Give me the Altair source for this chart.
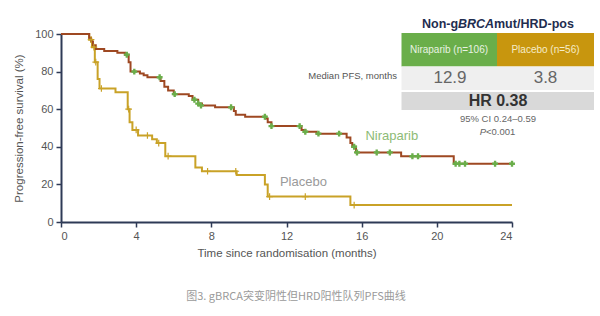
import altair as alt
import pandas as pd

# Kaplan-Meier step points (months, % PFS)
nira_t = [0, 1.5, 1.6, 1.7, 1.85, 2.3, 3.0, 3.4, 3.6, 3.7, 4.2, 4.4, 4.6, 5.3, 5.5, 5.7, 6.0, 6.8, 7.0, 7.3,
          7.5, 8.2, 9.2, 9.3, 9.8, 10.9, 11.0, 11.2, 12.8, 13.0, 13.6, 15.2, 15.4, 15.5, 15.7, 18.1, 20.9, 24.0]
nira_s = [100, 98, 96, 94, 92, 91, 90, 89, 85, 80, 79, 78, 77, 75, 72, 70, 68, 67, 65, 63,
          62, 61, 59, 57, 56, 55, 53, 51, 49, 48, 47, 45, 42, 40, 37, 35, 31, 31]
plac_t = [0, 1.5, 1.65, 1.8, 1.95, 2.05, 2.9, 3.55, 3.65, 3.8, 4.1, 4.85, 5.1, 5.55, 7.15, 7.5, 9.35, 10.85, 11.0, 15.4, 24.0]
plac_s = [100, 97, 93, 85, 76, 71, 69, 60, 53, 49, 46, 44, 42, 35, 29, 27, 25, 20, 13.5, 9, 9]

# censor marks
nira_ct = [3.5, 3.9, 5.25, 6.05, 7.1, 7.3, 7.45, 9.05, 10.85, 11.2, 12.7, 13.0, 13.7, 14.8, 15.6, 15.75,
           16.8, 17.5, 18.7, 19.0, 21.0, 21.2, 21.5, 23.1, 24.0]
nira_cs = [89, 80, 77, 68, 65, 63, 62, 61, 56, 51, 51, 48, 47, 47, 40, 37,
           37, 37, 35, 35, 31, 31, 31, 31, 31]
plac_ct = [1.6, 1.75, 1.85, 2.15, 3.6, 4.0, 4.6, 5.2, 5.7, 7.8, 9.3, 11.1, 13.0, 15.6]
plac_cs = [97, 93, 85, 71, 60, 49, 46, 42, 35, 27, 27, 13.5, 13.5, 9]

x_ticks = [0, 4, 8, 12, 16, 20, 24]
y_ticks = [0, 20, 40, 60, 80, 100]

arm_names = ["Niraparib", "Placebo"]
arm_n = [106, 56]
median_pfs = ["12.9", "3.8"]
hr_text = "HR 0.38"
ci_text = "95% CI 0.24\u20130.59"
p_text = "<0.001"
title_parts = ["Non-g", "BRCA", "mut/HRD-pos"]
caption = "图3. gBRCA突变阴性但HRD阳性队列PFS曲线"

NIRA = "#9e4822"
PLAC = "#c9a227"
GREEN = "#6aae4a"
GOLD = "#c8960e"
AX = "#2e3a56"
FONT = "Liberation Sans"

xs = alt.Scale(domain=[0, 24], nice=False)
ys = alt.Scale(domain=[0, 100], nice=False)

nira_df = pd.DataFrame({"t": nira_t, "s": nira_s})
plac_df = pd.DataFrame({"t": plac_t, "s": plac_s})
nc_df = pd.DataFrame({"t": nira_ct, "s": nira_cs})
pc_df = pd.DataFrame({"t": plac_ct, "s": plac_cs})

x_axis = alt.Axis(values=x_ticks, title="Time  since randomisation  (months)",
                  titlePadding=6, labelPadding=3, labelOverlap=False)
y_axis = alt.Axis(values=y_ticks, title="Progression-free survival (%)",
                  titlePadding=10, labelPadding=3, labelOverlap=False)
X = alt.X("t:Q", scale=xs, axis=x_axis)
Y = alt.Y("s:Q", scale=ys, axis=y_axis)

plac_line = alt.Chart(plac_df).mark_line(interpolate="step-after", color=PLAC, strokeWidth=2).encode(x=X, y=Y)
nira_line = alt.Chart(nira_df).mark_line(interpolate="step-after", color=NIRA, strokeWidth=2).encode(x=X, y=Y)
plac_cens = alt.Chart(pc_df).mark_point(shape="M-1,0L1,0M0,-1L0,1", filled=False, color=PLAC,
                                        strokeWidth=1.2, size=45, opacity=1).encode(x=X, y=Y)
nira_cens = alt.Chart(nc_df).mark_point(shape="cross", filled=True, color=GREEN, size=35,
                                        opacity=1).encode(x=X, y=Y)

lab_df = pd.DataFrame({"t": [16.2, 11.65], "s": [46.0, 21.5], "label": arm_names})
nira_lab = alt.Chart(lab_df.iloc[[0]]).mark_text(align="left", baseline="middle", fontSize=13, font=FONT,
                                                 color="#8dbb76").encode(x=X, y=Y, text="label:N")
plac_lab = alt.Chart(lab_df.iloc[[1]]).mark_text(align="left", baseline="middle", fontSize=13, font=FONT,
                                                 color="#9a9a9a").encode(x=X, y=Y, text="label:N")

# inset table (pixel positions relative to plot area origin at canvas (61, 34))
OX, OY = 61, 34
one = pd.DataFrame({"k": [0]})


def rect(x1, x2, y1, y2, color):
    return alt.Chart(one).mark_rect(color=color).encode(
        x=alt.value(x1 - OX), x2=alt.value(x2 - OX), y=alt.value(y1 - OY), y2=alt.value(y2 - OY))


def txt(text, x, y, size, color, align="center", weight="normal", style="normal", font=FONT):
    return alt.Chart(one).mark_text(text=text, align=align, baseline="middle", fontSize=size, color=color,
                                    fontWeight=weight, fontStyle=style, font=font).encode(
        x=alt.value(x - OX), y=alt.value(y - OY))


table = [
    rect(401.5, 497, 33, 66.5, GREEN),
    rect(497, 594, 33, 66.5, GOLD),
    rect(401.5, 594, 66.5, 90, "#efefef"),
    rect(401.5, 594, 92, 110, "#d9d9d9"),
    txt(title_parts[0], 422, 24, 12.5, "#1f2d50", align="left", weight="bold"),
    txt(title_parts[1], 458, 24, 12.5, "#1f2d50", align="left", weight="bold", style="italic"),
    txt(title_parts[2], 494, 24, 12.5, "#1f2d50", align="left", weight="bold"),
    txt(f"{arm_names[0]} (n={arm_n[0]})", 449, 49.5, 10, "#e9f2e2"),
    txt(f"{arm_names[1]} (n={arm_n[1]})", 545.5, 49.5, 10, "#f6ecc8"),
    txt("Median PFS, months", 397, 76, 9.5, "#555555", align="right"),
    txt(median_pfs[0], 450, 78, 17, "#666666"),
    txt(median_pfs[1], 545.5, 78, 17, "#666666"),
    txt(hr_text, 498, 101, 16, "#333333", weight="bold"),
    txt(ci_text, 498, 119, 9.5, "#666666"),
    txt("P", 486, 131.5, 9.5, "#666666", align="right", style="italic"),
    txt(p_text, 486, 131.5, 9.5, "#666666", align="left"),
    txt(caption, 296, 297, 11, "#9a9a9a", font="Noto Sans CJK SC"),
]

chart = alt.layer(plac_line, nira_line, plac_cens, nira_cens, nira_lab, plac_lab, *table).properties(
    width=451, height=188,
    autosize=alt.AutoSizeParams(type="none"),
    padding={"left": 61, "top": 34, "right": 88, "bottom": 94},
    background="white",
).configure_view(stroke=None).configure_axis(
    grid=False, domainColor=AX, domainWidth=2, tickColor=AX, tickWidth=1.5, tickSize=5,
    labelColor="#555555", labelFontSize=11, labelFont=FONT, titleColor="#555555",
    titleFont=FONT, titleFontSize=11.5, titleFontWeight="normal", labelOverlap=False,
)

chart.save("out.html", embed_options={"renderer": "svg", "actions": False})
